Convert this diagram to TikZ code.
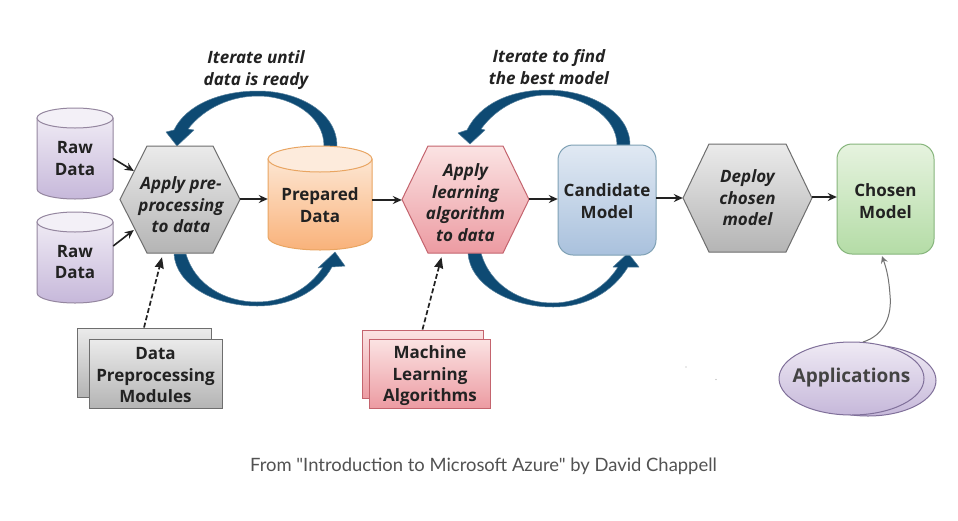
\documentclass[tikz,border=0pt]{standalone}
\usepackage{fontspec}
\setmainfont{Open Sans}
\newfontfamily\capfont{Lato}
\usetikzlibrary{arrows.meta,calc,shapes.geometric}
\definecolor{band}{HTML}{0E4A73}
\definecolor{ink}{HTML}{222222}
\definecolor{purpleE}{HTML}{94869F}
\tikzset{
  x=1pt,y=-1pt,
  lbl/.style={inner sep=0pt,align=center,text=ink,font=\fontsize{17}{21.5}\selectfont\bfseries},
  ilbl/.style={lbl,font=\fontsize{17}{21.5}\selectfont\bfseries\itshape},
  flow/.style={draw=ink,line width=1.6pt,-{Stealth[length=9pt,width=8pt,inset=3pt]}},
  dflow/.style={draw=ink,line width=1.7pt,dash pattern=on 5pt off 2.5pt,-{Stealth[length=11pt,width=9pt,inset=1pt]}},
  loopband/.style={fill=band,draw=band!70,line width=.5pt,line join=round},
  purplebody/.style={draw=purpleE,line width=1pt,top color=purpleA,bottom color=purpleB},
  purpletop/.style={draw=purpleE,line width=1pt,fill=purpleT},
  orangebody/.style={draw=orangeE,line width=1pt,top color=orangeA,bottom color=orangeB},
  orangetop/.style={draw=orangeE,line width=1pt,fill=orangeT},
  greyshape/.style={draw=greyE,line width=1pt,top color=greyA,bottom color=greyB},
  redshape/.style={draw=redE,line width=1pt,top color=redA,bottom color=redB},
  blueshape/.style={draw=blueE,line width=1pt,top color=blueA,bottom color=blueB,rounded corners=15pt},
  greenshape/.style={draw=greenE,line width=1pt,top color=greenA,bottom color=greenB,rounded corners=15pt},
  appshape/.style={draw=appE,line width=1pt,top color=purpleA,bottom color=purpleB},
}
\definecolor{purpleA}{HTML}{EFEAF4}\definecolor{purpleB}{HTML}{C6B8DA}\definecolor{purpleT}{HTML}{F3F0F7}
\definecolor{appE}{HTML}{80709A}
\definecolor{orangeA}{HTML}{FDE6D2}\definecolor{orangeB}{HTML}{F9B27A}\definecolor{orangeT}{HTML}{FDEBDC}\definecolor{orangeE}{HTML}{E9A562}
\definecolor{greyA}{HTML}{EBEBEB}\definecolor{greyB}{HTML}{B4B4B4}\definecolor{greyE}{HTML}{6E6E6E}
\definecolor{redA}{HTML}{FBE3E3}\definecolor{redB}{HTML}{EC9BA2}\definecolor{redE}{HTML}{C4646E}
\definecolor{blueA}{HTML}{E1E9F3}\definecolor{blueB}{HTML}{A9C1DD}\definecolor{blueE}{HTML}{7FA1B5}
\definecolor{greenA}{HTML}{E6F3DF}\definecolor{greenB}{HTML}{B4DCA6}\definecolor{greenE}{HTML}{86B57C}
% x1 x2 y1 y2 ry body top
\newcommand\cylshape[7]{%
  \pgfmathsetmacro\cxm{(#1+#2)/2}\pgfmathsetmacro\rxm{(#2-#1)/2}%
  \pgfmathsetmacro\ka{#3+#5}\pgfmathsetmacro\kb{#4-#5}%
  \pgfmathsetmacro\kc{.55*\rxm}\pgfmathsetmacro\kd{#5*.55}%
  \draw[#6] (#1,\ka) -- (#1,\kb)
    .. controls (#1,\kb+\kd) and (\cxm-\kc,#4) .. (\cxm,#4)
    .. controls (\cxm+\kc,#4) and (#2,\kb+\kd) .. (#2,\kb)
    -- (#2,\ka) -- cycle;
  \draw[#7] (\cxm,\ka) ellipse [x radius=\rxm pt,y radius=#5 pt];}
% x1 x2 y1 y2 inset style
\newcommand\hexshape[6]{%
  \pgfmathsetmacro\cym{(#3+#4)/2}\pgfmathsetmacro\hxa{#1+#5}\pgfmathsetmacro\hxb{#2-#5}%
  \draw[#6] (#1,\cym) -- (\hxa,#3) -- (\hxb,#3) -- (#2,\cym) -- (\hxb,#4) -- (\hxa,#4) -- cycle;}
\begin{document}
\begin{tikzpicture}
\useasboundingbox (0,0) rectangle (958,520);
\fill[white] (0,0) rectangle (958,520);

% loop arrows
\fill[loopband] (337,146) .. controls (337,112) and (298,91) .. (258,91)
  .. controls (220,91) and (186,105) .. (174,130) -- (166,132) -- (177,146) -- (194,130) -- (188,129)
  .. controls (205,107) and (232,96) .. (258,96) .. controls (290,96) and (324,115) .. (324,146) -- cycle;
\fill[loopband] (630,145) .. controls (630,112) and (590,90) .. (547,90)
  .. controls (510,90) and (480,104) .. (467,130) -- (458,133) -- (470,144) -- (485,130) -- (481,129)
  .. controls (497,107) and (522,95) .. (547,95) .. controls (580,95) and (617,115) .. (617,145) -- cycle;
\fill[loopband] (174,254) .. controls (176,285) and (215,306) .. (257,306)
  .. controls (290,306) and (318,292) .. (332,267) -- (345,266) -- (335,252) -- (318,268) -- (323,267)
  .. controls (310,288) and (285,302) .. (257,302) .. controls (225,302) and (195,285) .. (186,254) -- cycle;
\fill[loopband] (468,253) .. controls (470,285) and (510,307) .. (553,307)
  .. controls (585,307) and (612,293) .. (628,267) -- (639,267) -- (628,253) -- (613,267) -- (618,267)
  .. controls (605,288) and (580,303) .. (553,303) .. controls (520,303) and (490,285) .. (481,253) -- cycle;

% shapes
\cylshape{37}{113}{108}{199}{10}{purplebody}{purpletop}
\cylshape{37}{113}{212}{303}{10}{purplebody}{purpletop}
\cylshape{268}{372}{146}{250}{13}{orangebody}{orangetop}
\hexshape{120}{240}{146}{253}{27}{greyshape}
\hexshape{402}{529}{146}{253}{26}{redshape}
\hexshape{683}{812}{144}{252}{26}{greyshape}
\draw[blueshape] (558,145) rectangle (656,255);
\draw[greenshape] (837,144) rectangle (934,254);

% stacks
\node[greyshape,rectangle,minimum width=134pt,minimum height=69pt,inner sep=0pt] (modback) at (144,362.5) {};
\node[greyshape,rectangle,minimum width=133pt,minimum height=69pt,inner sep=0pt] (modules) at (155.5,373.5) {};
\node[lbl] (modtext) at (155.5,375.5) {Data\\Preprocessing\\Modules};
\node[redshape,rectangle,minimum width=121pt,minimum height=68pt,inner sep=0pt] (algback) at (422.5,364) {};
\node[redshape,rectangle,minimum width=121pt,minimum height=69pt,inner sep=0pt] (algs) at (429.5,373.5) {};
\node[lbl] (algtext) at (430,376) {Machine\\Learning\\Algorithms};

% applications
\node[appshape,ellipse,minimum width=136pt,minimum height=71pt,inner sep=0pt] (appback) at (868,380.5) {};
\node[appshape,ellipse,minimum width=145pt,minimum height=73pt,inner sep=0pt] (apps) at (851.5,378.5) {};
\node[lbl,font=\fontsize{19}{21.5}\selectfont\bfseries,text=ink!85] (apptext) at (851.5,377.5) {Applications};

% labelled nodes
\node[lbl,minimum width=76pt,minimum height=81pt] (raw1) at (75,158.5) {Raw\\Data};
\node[lbl,minimum width=76pt,minimum height=81pt] (raw2) at (75,262) {Raw\\Data};
\node[lbl,minimum width=104pt,minimum height=80pt] (prep) at (320,205) {Prepared\\Data};
\node[ilbl,minimum width=120pt,minimum height=90pt] (h1) at (181,205) {Apply pre-\\processing\\to data};
\node[ilbl,minimum width=127pt,minimum height=90pt] (h2) at (465.5,202.5) {Apply\\learning\\algorithm\\to data};
\node[ilbl,minimum width=129pt,minimum height=90pt] (h3) at (747.5,198) {Deploy\\chosen\\model};
\node[lbl,minimum width=98pt,minimum height=110pt] (cand) at (607,201) {Candidate\\Model};
\node[lbl,minimum width=97pt,minimum height=110pt] (chosen) at (885.5,201) {Chosen\\Model};

% titles
\node[ilbl] (t1) at (256,70) {Iterate until\\data is ready};
\node[ilbl] (t2) at (549,67) {Iterate to find\\the best model};

% connectors
\draw[flow] ($(raw1.east)+(0,0)$) -- ($(h1.west)+(13,-34)$);
\draw[flow] ($(raw2.east)+(0,-16)$) -- ($(h1.west)+(13,25)$);
\draw[flow] ($(h1.east)+(-1,-6)$) -- ($(prep.west)+(0,-6)$);
\draw[flow] ($(prep.east)+(0,-5)$) -- ($(h2.west)+(0,-2.5)$);
\draw[flow] ($(h2.east)+(0,-3.5)$) -- ($(cand.west)+(0,-2)$);
\draw[flow] ($(cand.east)+(0,-3)$) -- (h3.west);
\draw[flow] ($(h3.east)+(0,-1)$) -- ($(chosen.west)+(0,-4)$);
\draw[dflow] (modback.north) -- ($(h1.south)+(-19,7)$);
\draw[dflow] (algback.north) -- ($(h2.south)+(-24,9.5)$);
\draw[draw=gray!90!black,line width=1pt,-{Stealth[length=7pt,width=7pt,inset=2.5pt]}]
  (863,342) .. controls (885,335) and (892,315) .. (890,295) .. controls (889,280) and (887,270) .. ($(chosen.south)+(-3.5,0)$);

% stray specks
\fill[gray!70] (686,367) circle (.7pt);
\fill[gray!70] (716,379.5) circle (.7pt);

% caption
\node[inner sep=0pt,text=black!68,font=\fontsize{18.4}{22}\capfont] (cap) at (483.5,466) {From "Introduction to Microsoft Azure" by David Chappell};
\end{tikzpicture}
\end{document}
